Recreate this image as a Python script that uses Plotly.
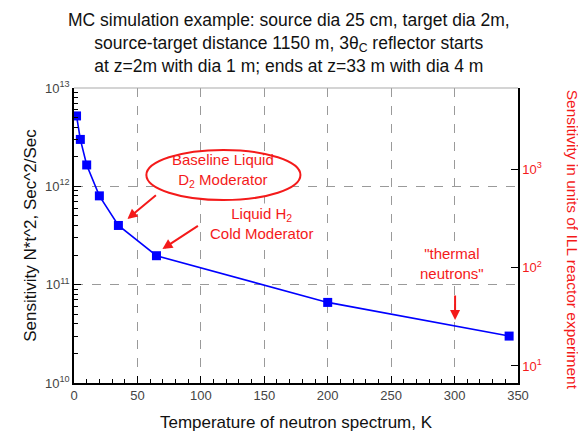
import plotly.graph_objects as go

# Data
temperature_K = [2, 5, 10, 20, 35, 65, 200, 343]
sensitivity = [5.2e12, 3.0e12, 1.65e12, 8.0e11, 4.0e11, 1.97e11, 6.6e10, 3.0e10]

x_ticks = [0, 50, 100, 150, 200, 250, 300, 350]
left_ticks = [1e10, 1e11, 1e12, 1e13]
left_labels = ["10<sup>10</sup>", "10<sup>11</sup>", "10<sup>12</sup>", "10<sup>13</sup>"]
left_minor = [m * 10 ** e for e in (10, 11, 12) for m in range(2, 10)]
right_ticks = [10, 100, 1000]
right_labels = ["10<sup>1</sup>", "10<sup>2</sup>", "10<sup>3</sup>"]

FONT = "Liberation Sans"
RED = "#f41a1a"
BLUE = "#0000ff"
GRID = "#9a9a9a"

fig = go.Figure()
fig.add_trace(go.Scatter(
    x=temperature_K, y=sensitivity, mode="lines+markers",
    line=dict(color=BLUE, width=1.6),
    marker=dict(symbol="square", size=9, color=BLUE),
    showlegend=False, hoverinfo="skip"))
# invisible trace to activate the right axis
fig.add_trace(go.Scatter(x=[None], y=[None], yaxis="y2", showlegend=False))

# page has an 8px body margin: figure is 578x425 so it fits the 586x433 window
fig.update_layout(
    width=578, height=425,
    margin=dict(l=66, r=67.5, t=80, b=50, autoexpand=False),
    paper_bgcolor="white", plot_bgcolor="white",
    font=dict(family=FONT, color="#222"),
    xaxis=dict(
        range=[0, 350], tickvals=x_ticks, showline=True, linecolor="black", linewidth=1.5,
        ticks="inside", ticklen=7, tickcolor="black", tickwidth=1,
        minor=dict(dtick=10, ticks="inside", ticklen=4, tickcolor="black", showgrid=False),
        showgrid=True, gridcolor=GRID, griddash="dash", gridwidth=1.2,
        tickfont=dict(size=13, color="#444"), zeroline=False, automargin=False,
        title=dict(text="Temperature of neutron spectrum, K", font=dict(size=17, color="#111"), standoff=14)),
    yaxis=dict(
        type="log", range=[10, 13], tickvals=left_ticks, ticktext=left_labels,
        showline=True, linecolor="black", linewidth=1.5,
        ticks="inside", ticklen=7, tickcolor="black",
        minor=dict(tickvals=left_minor, ticks="inside", ticklen=4, tickcolor="black", showgrid=False),
        showgrid=True, gridcolor=GRID, griddash="dash", gridwidth=1.2,
        tickfont=dict(size=13, color="#444"), zeroline=False, automargin=False,
        title=dict(text="Sensitivity N*t^2, Sec^2/Sec", font=dict(size=17, color="#111"), standoff=4)),
    yaxis2=dict(
        type="log", range=[0.827, 3.827], overlaying="y", side="right",
        tickvals=right_ticks, ticktext=right_labels,
        showline=True, linecolor="black", linewidth=1.5,
        ticks="inside", ticklen=7, tickcolor="black",
        showgrid=False, zeroline=False, automargin=False,
        tickfont=dict(size=13, color=RED)),
)

# top frame line (light gray)
fig.add_shape(type="line", xref="paper", yref="paper", x0=0, x1=1, y0=1, y1=1,
              line=dict(color="#aaaaaa", width=1.2))

# Title
fig.add_annotation(xref="paper", yref="paper", x=0.485, y=1.27, xanchor="center", yanchor="top",
                   text="MC simulation example: source dia 25 cm, target dia 2m,<br>"
                        "source-target distance 1150 m, 3θ<sub>C</sub> reflector starts<br>"
                        "at z=2m with dia 1 m; ends at z=33 m with dia 4 m",
                   showarrow=False, font=dict(size=17.5, color="#111", family=FONT))

# Ellipse around baseline label
fig.add_shape(type="circle", xref="paper", yref="paper",
              x0=0.163, x1=0.51, y0=0.62, y1=0.79,
              line=dict(color=RED, width=2), fillcolor="white", layer="above")

anns = [
    dict(x=117.7, y=12.16, text="Baseline Liquid<br>D<sub>2</sub> Moderator", showarrow=False),
    dict(x=147.6, y=11.617, text="Liquid H<sub>2</sub><br>Cold Moderator", showarrow=False, bgcolor="white"),
    dict(x=298, y=11.22, text="\"thermal<br>neutrons\"", showarrow=False, bgcolor="white"),
    dict(x=42.1, y=11.668, text="", showarrow=True, ax=30, ay=-25),
    dict(x=69.7, y=11.363, text="", showarrow=True, ax=37, ay=-24),
    dict(x=300.4, y=10.64, text="", showarrow=True, ax=0, ay=-26),
]
for a in anns:
    fig.add_annotation(xref="x", yref="y", font=dict(size=15, color=RED, family=FONT),
                       arrowcolor=RED, arrowhead=2, arrowsize=1, arrowwidth=2, **a)

fig.add_annotation(xref="paper", yref="paper", x=1.122, y=0.485, xanchor="center", yanchor="middle",
                   text="Sensitivity in units of ILL reactor experiment", textangle=90,
                   showarrow=False, font=dict(size=15.5, color=RED, family=FONT))

fig.write_html("out.html")
